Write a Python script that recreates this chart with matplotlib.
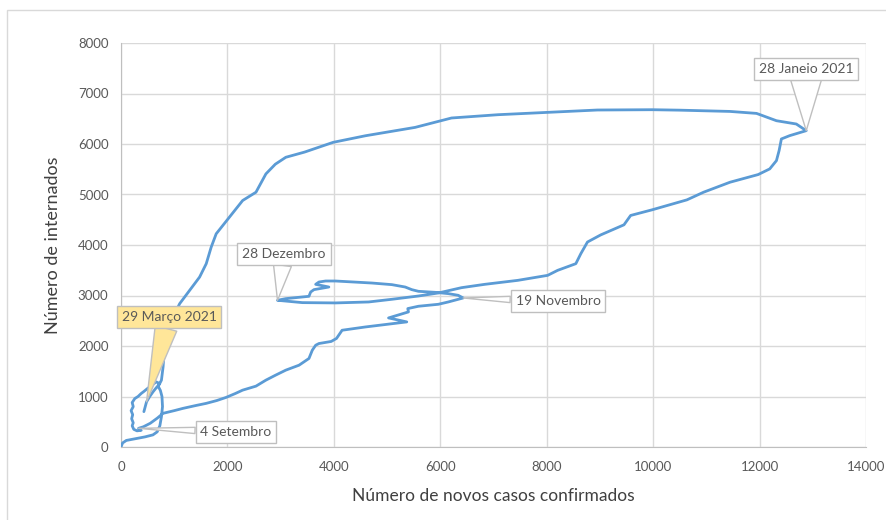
import matplotlib
matplotlib.use("Agg")
import matplotlib.pyplot as plt
from matplotlib.patches import Rectangle

# trajectory: 7-day new cases (x) vs hospitalised (y), chronological
casos = [0, 30, 100, 250, 450, 600, 680, 730, 760, 780, 770, 740, 700, 720, 660,
         580, 500, 430, 380, 320, 260, 210, 230, 190, 220, 200, 230, 210, 240, 300,
         380, 330,
         420, 550, 680, 791, 1000, 1165, 1400, 1601, 1800, 1975, 2150, 2286, 2536,
         2723, 2900, 3097, 3346, 3532, 3595, 3658, 3720, 3950, 4050, 4155, 4592,
         5000, 5370, 5028, 5402, 5389, 5589, 5963, 6150, 6430,
         6336, 6150, 5900, 5589, 5464, 5340, 5090, 4716, 4031, 3845, 3720, 3658,
         3906, 3626, 3564, 3532, 3097, 2941,
         3407, 4031, 4654, 5090, 5589, 5963, 6399, 6835, 7457, 8018, 8205, 8547,
         8641, 8766, 9015, 9452, 9577, 9981, 10635, 10947, 11444, 11974, 12191,
         12317, 12367, 12410, 12565, 12877,
         12690, 12317, 11943, 11444, 10500, 9981, 8953, 7986, 7083, 6211, 5962,
         5527, 4592, 3987, 3450, 3097, 2900, 2723, 2536, 2286, 2037, 1789, 1695,
         1602, 1477, 1290, 1103, 1041, 884, 822, 791, 760, 720, 660, 600, 540, 480,
         430]
internados = [0, 80, 130, 160, 200, 240, 300, 420, 600, 800, 1000, 1120, 1200, 1260,
              1290, 1220, 1160, 1100, 1060, 1000, 960, 880, 800, 720, 640, 560, 480,
              420, 350, 320, 330, 370,
              400, 470, 570, 667, 720, 765, 820, 864, 920, 982, 1060, 1126, 1205,
              1324, 1420, 1522, 1620, 1753, 1917, 2015, 2049, 2090, 2150, 2312, 2377,
              2430, 2477, 2556, 2675, 2741, 2787, 2826, 2872, 2951,
              3004, 3037, 3063, 3083, 3116, 3168, 3215, 3247, 3287, 3287, 3267, 3221,
              3168, 3116, 3069, 2984, 2938, 2905,
              2859, 2853, 2872, 2925, 2990, 3050, 3155, 3221, 3300, 3399, 3498, 3630,
              3828, 4059, 4200, 4400, 4585, 4697, 4894, 5045, 5243, 5395, 5507,
              5671, 5869, 6100, 6165, 6264,
              6396, 6461, 6606, 6645, 6670, 6679, 6673, 6626, 6580, 6515, 6448,
              6329, 6163, 6033, 5840, 5737, 5600, 5408, 5045, 4881, 4551, 4222, 3958,
              3630, 3365, 3102, 2839, 2707, 2377, 2049, 1587, 1324, 1240, 1170, 1090,
              1000, 895, 700]

# callouts: (label, index of point, box centre in figure pixels from top-left, fill, tail width)
callouts = [
    ("4 Setembro", 31, (236, 432), "white", 0.45),
    ("19 Novembro", 65, (558, 301), "white", 0.45),
    ("28 Dezembro", 83, (284, 254), "white", 1.3),
    ("28 Janeio 2021", 111, (806, 69), "white", 2.2),
    ("29 Março 2021", len(casos) - 2, (169, 317), "#FFE699", 1.6),
]

W, H = 886, 520
plt.rcParams["font.family"] = ["Lato", "DejaVu Sans"]
fig = plt.figure(figsize=(W / 100, H / 100), dpi=100)
ax = fig.add_axes([121 / W, 1 - 447 / H, (866 - 121) / W, (447 - 43) / H])

fig.patches.append(Rectangle((7 / W, -0.05), 1.0, 1 - 10 / H + 0.05, transform=fig.transFigure,
                             fill=False, ec="#D9D9D9", lw=1))

ax.plot(casos, internados, color="#5B9BD5", lw=2, solid_joinstyle="round",
        solid_capstyle="round", zorder=3)

ax.set_xlim(0, 14000)
ax.set_ylim(0, 8000)
ax.set_xticks(range(0, 14001, 2000))
ax.set_yticks(range(0, 8001, 1000))
ax.grid(True, color="#D9D9D9", lw=1)
ax.set_axisbelow(True)
for s in ["top", "right"]:
    ax.spines[s].set_visible(False)
for s in ["left", "bottom"]:
    ax.spines[s].set_color("#BFBFBF")
ax.tick_params(length=0, labelsize=9.5, colors="#595959")
ax.tick_params(axis="x", pad=10)
ax.tick_params(axis="y", pad=9)
ax.set_xlabel("Número de novos casos confirmados", fontsize=12.5, color="#404040", labelpad=11)
ax.set_ylabel("Número de internados", fontsize=13, color="#404040", labelpad=12)

for text, i, (px, py), fc, tw in callouts:
    ax.annotate(text, xy=(casos[i], internados[i]), xytext=(px, H - py),
                textcoords="figure pixels", ha="center", va="center",
                fontsize=10, color="#595959", zorder=5,
                bbox=dict(boxstyle="square,pad=0.35", fc=fc, ec="#BFBFBF", lw=1),
                arrowprops=dict(arrowstyle=f"wedge,tail_width={tw},shrink_factor=0.5",
                                fc=fc, ec="#BFBFBF", lw=1, shrinkA=0, shrinkB=0))

fig.savefig("out.png", dpi=100)
